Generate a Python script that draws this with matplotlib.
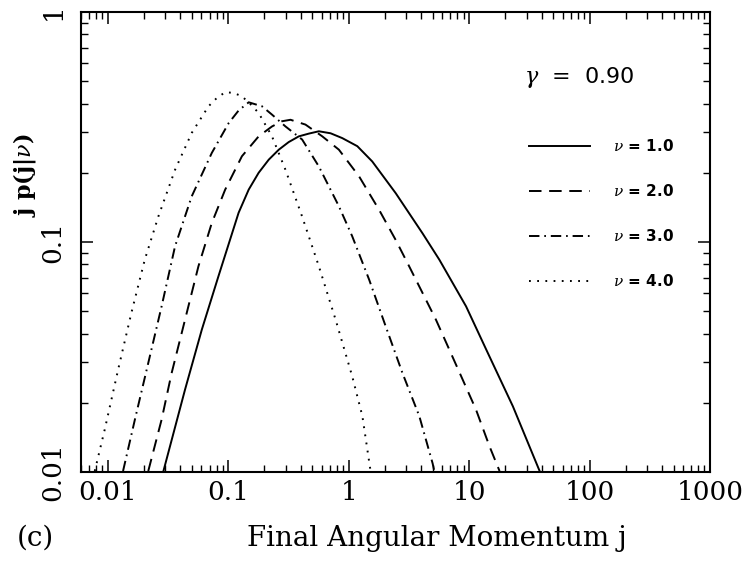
import matplotlib
matplotlib.use("Agg")
import matplotlib.pyplot as plt
from matplotlib.ticker import LogLocator, FixedLocator, FixedFormatter, NullFormatter

plt.rcParams['lines.scale_dashes'] = False
plt.rcParams['mathtext.fontset'] = 'dejavuserif'

# ---- data ----
j_nu1 = [0.029, 0.0438, 0.0604, 0.083, 0.122, 0.148, 0.179, 0.217, 0.263, 0.318,
         0.386, 0.467, 0.566, 0.708, 0.885, 1.18, 1.57, 2.46, 4.11, 5.66, 9.44,
         13.9, 23.1, 38.5]
p_nu1 = [0.0101, 0.0228, 0.0416, 0.071, 0.134, 0.169, 0.200, 0.228, 0.252, 0.272,
         0.288, 0.296, 0.303, 0.297, 0.283, 0.261, 0.224, 0.163, 0.109, 0.0838,
         0.0525, 0.034, 0.0193, 0.0101]

j_nu2 = [0.0217, 0.028, 0.0339, 0.0438, 0.0566, 0.0731, 0.0944, 0.130, 0.179, 0.231,
         0.280, 0.329, 0.438, 0.604, 0.830, 1.22, 1.79, 2.46, 3.18, 4.11, 5.31,
         6.86, 8.85, 11.4, 14.8, 17.9]
p_nu2 = [0.0101, 0.0169, 0.0269, 0.0459, 0.0784, 0.121, 0.169, 0.236, 0.288, 0.318,
         0.335, 0.340, 0.324, 0.288, 0.252, 0.193, 0.138, 0.102, 0.0784, 0.060,
         0.0459, 0.034, 0.0252, 0.0187, 0.0129, 0.0101]

j_nu3 = [0.0134, 0.0168, 0.0217, 0.028, 0.0362, 0.0498, 0.0731, 0.101, 0.122, 0.148,
         0.191, 0.231, 0.299, 0.411, 0.566, 0.830, 1.07, 1.48, 2.03, 2.80, 3.86,
         4.98, 5.14]
p_nu3 = [0.0101, 0.0169, 0.0298, 0.0525, 0.0958, 0.158, 0.244, 0.329, 0.373, 0.405,
         0.389, 0.358, 0.318, 0.279, 0.213, 0.143, 0.106, 0.0686, 0.043, 0.0269,
         0.0175, 0.0109, 0.0101]

j_nu4 = [0.0078, 0.00944, 0.0122, 0.0157, 0.0203, 0.0263, 0.0362, 0.0498, 0.0686,
         0.0805, 0.0944, 0.111, 0.130, 0.152, 0.179, 0.231, 0.299, 0.411, 0.566,
         0.780, 1.07, 1.30, 1.52]
p_nu4 = [0.0101, 0.0153, 0.0279, 0.0491, 0.0838, 0.129, 0.206, 0.298, 0.389,
         0.423, 0.448, 0.445, 0.430, 0.399, 0.364, 0.288, 0.206, 0.129, 0.0784,
         0.0459, 0.0261, 0.0175, 0.0101]

series_labels = [r'$\nu$ = 1.0', r'$\nu$ = 2.0', r'$\nu$ = 3.0', r'$\nu$ = 4.0']
x_tick_values = [0.01, 0.1, 1, 10, 100, 1000]
x_tick_labels = ['0.01', '0.1', '1', '10', '100', '1000']
y_tick_values = [0.01, 0.1, 1]
y_tick_labels = ['0.01', '0.1', '1']

# ---- figure ----
fig = plt.figure(figsize=(7.44, 5.61), dpi=100)
ax = fig.add_axes([0.1089, 0.1586, 0.8454, 0.820])

lw = 1.4
styles = [
    dict(linestyle='-'),
    dict(linestyle=(0, (9, 5.5))),
    dict(linestyle=(0, (7.5, 3.5, 1.2, 3.5))),
    dict(linestyle=(0, (1.3, 4.6))),
]
for jx, py, lab, st in zip([j_nu1, j_nu2, j_nu3, j_nu4],
                           [p_nu1, p_nu2, p_nu3, p_nu4], series_labels, styles):
    ax.plot(jx, py, color='black', lw=lw, label=lab, **st)

ax.set_xscale('log')
ax.set_yscale('log')
ax.set_xlim(0.006, 1000)
ax.set_ylim(0.01, 1)

serif = 'DejaVu Serif'
ax.xaxis.set_major_locator(FixedLocator(x_tick_values))
ax.xaxis.set_major_formatter(FixedFormatter(x_tick_labels))
ax.yaxis.set_major_locator(FixedLocator(y_tick_values))
ax.yaxis.set_major_formatter(FixedFormatter(y_tick_labels))
ax.xaxis.set_minor_locator(LogLocator(base=10, subs=range(2, 10), numticks=20))
ax.yaxis.set_minor_locator(LogLocator(base=10, subs=range(2, 10), numticks=20))
ax.xaxis.set_minor_formatter(NullFormatter())
ax.yaxis.set_minor_formatter(NullFormatter())

ax.tick_params(which='both', direction='in', top=True, right=True, color='black')
ax.tick_params(which='major', length=8.5, width=1.1)
ax.tick_params(which='minor', length=4.8, width=1.0)
ax.tick_params(axis='x', which='major', pad=6, labelsize=19)
ax.tick_params(axis='y', which='major', pad=11, labelsize=19)
for lbl in ax.get_xticklabels():
    lbl.set_fontfamily(serif)
for lbl in ax.get_yticklabels():
    lbl.set_fontfamily(serif)
    lbl.set_rotation(90)
    lbl.set_va('center')
for sp in ax.spines.values():
    sp.set_linewidth(1.5)

# legend
leg = ax.legend(loc='upper left', bbox_to_anchor=(0.700, 0.742), frameon=False,
                borderpad=0, handlelength=4.0, handletextpad=1.5,
                labelspacing=1.9, prop=dict(family='DejaVu Sans', weight='bold', size=11))

ax.text(0.705, 0.858, r'$\gamma$  =  0.90', transform=ax.transAxes,
        fontsize=16, family='DejaVu Sans', va='center', ha='left')

fig.text(437 / 744, 1 - 538 / 561, 'Final Angular Momentum j', family=serif,
         fontsize=20, ha='center', va='center')
fig.text(35 / 744, 1 - 538 / 561, '(c)', family=serif, fontsize=20,
         ha='center', va='center')
fig.text(25 / 744, 1 - 175 / 561, r'j p(j|$\nu$)', family=serif, fontsize=16,
         fontweight='bold', rotation=90, ha='center', va='center')

fig.savefig('out.png', dpi=100)
